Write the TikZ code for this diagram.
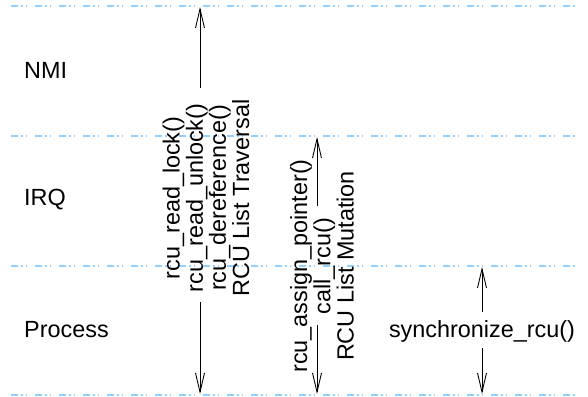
\documentclass[tikz,border=0pt]{standalone}
\usepackage{fontspec}
\setmainfont{Liberation Sans}
\usetikzlibrary{arrows.meta}
\definecolor{azulnivel}{RGB}{145,208,255}
\begin{document}
\begin{tikzpicture}[x=1pt, y=-1pt,
  nivel/.style={draw=azulnivel, line width=1.5pt,
                dash pattern=on 7pt off 3pt on 1.5pt off 3pt on 1.5pt off 8pt},
  etiqueta/.style={font=\fontsize{23.4}{23.2}\selectfont, inner sep=0pt},
  bloque/.style={etiqueta, align=center, rotate=90},
  flecha/.style={-{Straight Barb[length=19pt,width=9pt]}, line width=0.9pt}
]
  \useasboundingbox (0,0) rectangle (588,396);
  \foreach \y in {6,136,266,395}
    \draw[nivel] (11,\y) -- (577,\y);
  \node[etiqueta, anchor=west] (nmi)     at (24,70)  {NMI};
  \node[etiqueta, anchor=west] (irq)     at (24,200) {IRQ};
  \node[etiqueta, anchor=west] (process) at (24,330) {Process};
  % lectura
  \node[bloque] (lectura) at (206,198)
    {rcu\_read\_lock()\\rcu\_read\_unlock()\\rcu\_dereference()\\RCU List Traversal};
  \coordinate (lectura-arriba) at (200,88);
  \coordinate (lectura-tope)   at (200,7);
  \coordinate (lectura-abajo)  at (200,302);
  \coordinate (lectura-fondo)  at (200,394);
  \draw[flecha] (lectura-arriba) -- (lectura-tope);
  \draw[flecha] (lectura-abajo) -- (lectura-fondo);
  % mutacion
  \node[bloque] (mutacion) at (322,266)
    {rcu\_assign\_pointer()\\call\_rcu()\\RCU List Mutation};
  \coordinate (mutacion-arriba) at (317,206);
  \coordinate (mutacion-tope)   at (317,137);
  \coordinate (mutacion-abajo)  at (317,325);
  \coordinate (mutacion-fondo)  at (317,394);
  \draw[flecha] (mutacion-arriba) -- (mutacion-tope);
  \draw[flecha] (mutacion-abajo) -- (mutacion-fondo);
  % espera
  \node[etiqueta] (sincro) at (482,331) {synchronize\_rcu()};
  \coordinate (sincro-arriba) at (482,312);
  \coordinate (sincro-tope)   at (482,267);
  \coordinate (sincro-abajo)  at (482,348);
  \coordinate (sincro-fondo)  at (482,394);
  \draw[flecha] (sincro-arriba) -- (sincro-tope);
  \draw[flecha] (sincro-abajo) -- (sincro-fondo);
\end{tikzpicture}
\end{document}
